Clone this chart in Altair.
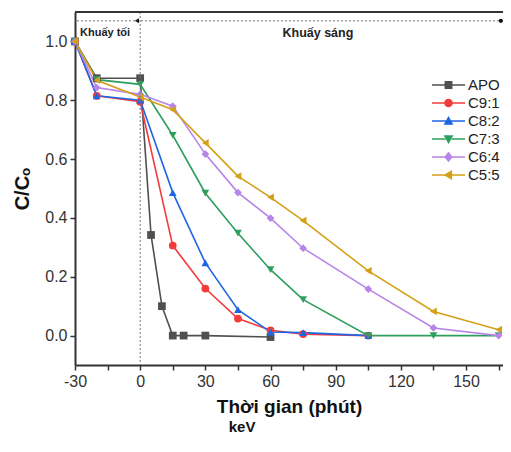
import altair as alt
import pandas as pd

series = ["APO", "C9:1", "C8:2", "C7:3", "C6:4", "C5:5"]
colors = ["#505050", "#f23c3c", "#1f66e5", "#2e9e5e", "#b784e8", "#d4a017"]
shapes = ["square", "circle", "triangle-up", "triangle-down", "diamond", "triangle-left"]

t_short = [-30, -20, 0, 15, 30, 45, 60, 75, 105]
t_long = [-30, -20, 0, 15, 30, 45, 60, 75, 105, 135, 165]
apo_t = [-30, -20, 0, 5, 10, 15, 20, 30, 60]
apo_v = [1.0, 0.875, 0.875, 0.342, 0.10, 0.0, 0.0, 0.0, -0.005]
c91_v = [1.0, 0.815, 0.795, 0.306, 0.16, 0.058, 0.018, 0.005, 0.0]
c82_v = [1.0, 0.815, 0.80, 0.486, 0.247, 0.088, 0.012, 0.01, 0.0]
c73_v = [1.0, 0.87, 0.854, 0.681, 0.484, 0.348, 0.224, 0.122, 0.0, 0.0, 0.0]
c64_v = [1.0, 0.843, 0.82, 0.78, 0.617, 0.486, 0.399, 0.297, 0.158, 0.026, 0.0]
c55_v = [1.0, 0.868, 0.811, 0.768, 0.655, 0.542, 0.47, 0.391, 0.22, 0.082, 0.02]

x_ticks = [-30, -15, 0, 15, 30, 45, 60, 75, 90, 105, 120, 135, 150, 165]
y_ticks = [0.0, 0.2, 0.4, 0.6, 0.8, 1.0]

ann_text = ["Khuấy tối", "Khuấy sáng"]
ann_x = [-27.7, 65.5]
ann_y = [1.03, 1.03]
ann_size = [11, 12.5]

rows = []
for s, ts, vs in [("APO", apo_t, apo_v), ("C9:1", t_short, c91_v), ("C8:2", t_short, c82_v),
                  ("C7:3", t_long, c73_v), ("C6:4", t_long, c64_v), ("C5:5", t_long, c55_v)]:
    for t, v in zip(ts, vs):
        rows.append({"series": s, "t": t, "v": v})
df = pd.DataFrame(rows)

line_part = "M-1,-0.05H-0.15V0.05H-1Z M0.15,-0.05H1V0.05H0.15Z "
marker_paths = [
    "M-0.24,-0.24H0.24V0.24H-0.24Z",
    "M-0.26,0A0.26,0.26,0,1,1,0.26,0A0.26,0.26,0,1,1,-0.26,0Z",
    "M0,-0.3L0.3,0.22L-0.3,0.22Z",
    "M0,0.3L0.3,-0.22L-0.3,-0.22Z",
    "M0,-0.32L0.26,0L0,0.32L-0.26,0Z",
    "M-0.3,0L0.22,-0.3L0.22,0.3Z",
]
legend_paths = [line_part + m for m in marker_paths]

FONT = "Liberation Sans"

xscale = alt.Scale(domain=[-30, 167], nice=False, zero=False)
yscale = alt.Scale(domain=[-0.1, 1.1], nice=False, zero=False)

xaxis = alt.Axis(values=x_ticks, labelExpr="datum.value % 30 == 0 ? '' + datum.value : ''",
                 title="Thời gian (phút)", titleFontSize=19, titleFont=FONT, titleFontWeight="bold",
                 titleColor="#111", titlePadding=8, labelFontSize=16, labelFont=FONT, labelColor="#333",
                 labelPadding=3, tickSize=5, tickColor="#333", tickWidth=1.5, domainColor="#333",
                 domainWidth=2, grid=False, labelFlush=False, labelOverlap=False)
yaxis = alt.Axis(values=y_ticks, format=".1f",
                 title="C/Cₒ", titleFontSize=20, titleFont=FONT, titleFontWeight="bold",
                 titleColor="#111", titlePadding=12, labelFontSize=16, labelFont=FONT, labelColor="#333",
                 labelPadding=3, tickSize=5, tickColor="#333", tickWidth=1.5, domainColor="#333",
                 domainWidth=2, grid=False, labelFlush=False, labelOverlap=False)

X = lambda f: alt.X(f, scale=xscale, axis=xaxis)
Y = lambda f: alt.Y(f, scale=yscale, axis=yaxis)

base = alt.Chart(df)
color_enc = alt.Color("series:N", scale=alt.Scale(domain=series, range=colors), legend=None)

vline = alt.Chart(pd.DataFrame({"x": [0]})).mark_rule(
    strokeDash=[2, 2], color="#777", strokeWidth=1).encode(x=X("x:Q"))
hline = alt.Chart(pd.DataFrame({"y": [1.07]})).mark_rule(
    strokeDash=[2, 2], color="#777", strokeWidth=1).encode(y=Y("y:Q"))
topline = alt.Chart(pd.DataFrame({"y": [1.1]})).mark_rule(
    color="#333", strokeWidth=2).encode(y=Y("y:Q"))

lines = base.mark_line(strokeWidth=1.6).encode(
    x=X("t:Q"), y=Y("v:Q"), color=color_enc, detail="series:N", order="t:Q")
points = base.mark_point(filled=True, size=60, opacity=1).encode(
    x=X("t:Q"), y=Y("v:Q"), color=color_enc,
    shape=alt.Shape("series:N", scale=alt.Scale(domain=series, range=shapes), legend=None),
)
leg = dict(title=None, orient="none", legendX=357, legendY=65,
           symbolSize=1089, labelFontSize=15, labelFont=FONT,
           labelColor="#222", labelOffset=3, padding=0, rowPadding=2, clipHeight=16,
           symbolStrokeWidth=0, symbolOpacity=1)
legend_layer = base.transform_filter("false").mark_point(filled=True, opacity=1).encode(
    x=X("t:Q"), y=Y("v:Q"),
    fill=alt.Fill("series:N", scale=alt.Scale(domain=series, range=colors), legend=alt.Legend(**leg)),
    shape=alt.Shape("series:N", scale=alt.Scale(domain=series, range=legend_paths), legend=alt.Legend(**leg)),
)

ann_df = pd.DataFrame({"text": ann_text, "x": ann_x, "y": ann_y, "size": ann_size})
ann = alt.Chart(ann_df).mark_text(align="left", baseline="middle", fontWeight="bold", font=FONT,
                                  color="#222").encode(
    x=X("x:Q"), y=Y("y:Q"), text="text:N", size=alt.Size("size:Q", scale=None, legend=None))

arrow = alt.Chart(pd.DataFrame({"x": [-1.5], "y": [1.07]})).mark_point(
    shape="triangle-left", filled=True, size=25, color="#111", opacity=1).encode(x=X("x:Q"), y=Y("y:Q"))
dot = alt.Chart(pd.DataFrame({"x": [166.0], "y": [1.07]})).mark_point(
    shape="circle", filled=True, size=18, color="#111", opacity=1).encode(x=X("x:Q"), y=Y("y:Q"))

chart = alt.layer(lines, points, vline, hline, topline, legend_layer, ann, arrow, dot).resolve_scale(
    shape="independent", fill="independent"
).properties(
    width=428, height=353,
    padding={"left": 67, "top": 4, "right": 0, "bottom": 73},
    autosize=alt.AutoSizeParams(type="none"),
    title=alt.TitleParams("keV", orient="bottom", anchor="start", dx=216, offset=4,
                          fontSize=15, font=FONT, fontWeight="bold", color="#111"),
).configure_view(stroke=None).configure(background="white")

chart.save("out.html", embed_options={"renderer": "svg", "actions": False})
